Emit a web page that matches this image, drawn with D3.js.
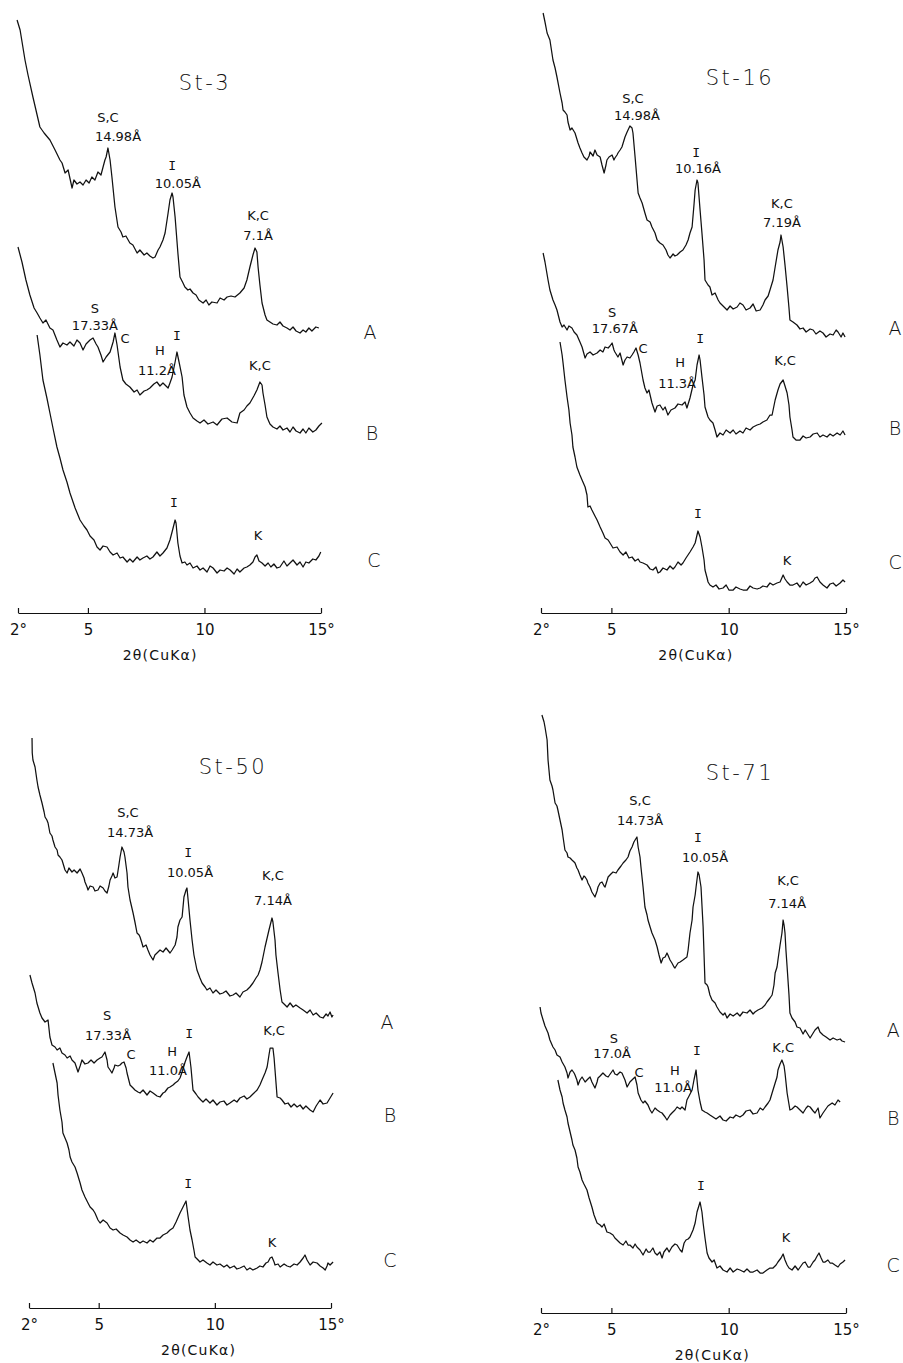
<!DOCTYPE html>
<html>
<head>
<meta charset="utf-8">
<script src="https://cdn.jsdelivr.net/npm/d3@7"></script>
<style>
  body { margin: 0; background: #fff; }
  svg text { font-family: "DejaVu Sans", sans-serif; fill: #111; }
</style>
</head>
<body>
<svg id="chart" width="903" height="1363"></svg>
<script>
// X-ray diffractograms, 2theta (deg) vs. relative intensity (arbitrary units,
// traces already stacked A / B / C as in the original plate)

var tickValues = [2, 5, 10, 15];
var tickLabels = ["2°", "5", "10", "15°"];
var axisTitle = "2θ(CuKα)";
var traceNames = ["A", "B", "C"];

// ---- St-3 ----
var st3A = [[1.96,593],[2.09,583],[2.30,553],[2.43,538],[2.64,516],[2.77,503],[2.94,486],[3.12,480],[3.37,473],[3.59,463],[3.80,453],[3.89,450],[4.02,440],[4.15,443],[4.32,425],[4.40,433],[4.53,429],[4.66,431],[4.79,428],[4.92,433],[5.05,430],[5.17,436],[5.30,433],[5.43,441],[5.56,438],[5.65,446],[5.73,453],[5.78,456],[5.86,465],[5.95,453],[6.03,436],[6.16,406],[6.29,386],[6.42,381],[6.50,376],[6.63,377],[6.80,370],[6.93,368],[7.11,360],[7.23,363],[7.41,358],[7.53,360],[7.66,357],[7.79,355],[7.88,356],[8.01,363],[8.09,366],[8.22,373],[8.31,380],[8.44,400],[8.52,413],[8.61,420],[8.65,416],[8.74,396],[8.86,360],[8.95,336],[9.08,330],[9.16,326],[9.29,323],[9.38,324],[9.51,320],[9.64,318],[9.76,313],[9.94,310],[10.07,313],[10.19,308],[10.32,311],[10.54,310],[10.67,315],[10.84,313],[10.97,316],[11.14,317],[11.31,316],[11.52,320],[11.70,325],[11.82,333],[11.95,346],[12.08,358],[12.17,365],[12.25,361],[12.30,346],[12.38,328],[12.47,310],[12.60,298],[12.68,293],[12.81,291],[12.94,289],[13.11,288],[13.24,291],[13.37,287],[13.54,285],[13.67,283],[13.80,286],[13.93,282],[14.10,280],[14.23,283],[14.35,281],[14.48,285],[14.61,282],[14.78,286],[14.91,285]];
var st3B = [[2.00,366],[2.17,351],[2.34,333],[2.51,318],[2.69,305],[2.82,300],[2.94,295],[3.07,290],[3.20,293],[3.37,285],[3.50,283],[3.67,273],[3.80,266],[3.93,270],[4.10,268],[4.23,271],[4.40,267],[4.53,273],[4.66,270],[4.79,263],[4.92,269],[5.09,273],[5.22,275],[5.35,269],[5.43,266],[5.56,258],[5.65,251],[5.78,256],[5.95,261],[6.08,271],[6.16,280],[6.25,268],[6.38,246],[6.50,233],[6.63,229],[6.80,226],[6.98,221],[7.11,223],[7.23,218],[7.41,222],[7.53,223],[7.66,225],[7.83,229],[7.96,231],[8.09,227],[8.22,230],[8.35,227],[8.44,225],[8.52,230],[8.61,236],[8.74,251],[8.82,261],[8.91,251],[9.04,236],[9.12,218],[9.25,206],[9.38,200],[9.51,195],[9.68,192],[9.81,190],[9.98,193],[10.15,189],[10.37,191],[10.54,188],[10.75,194],[10.97,195],[11.18,191],[11.40,190],[11.52,200],[11.70,203],[11.82,207],[11.95,210],[12.12,217],[12.25,223],[12.38,231],[12.47,228],[12.51,220],[12.60,208],[12.68,196],[12.81,189],[12.94,186],[13.11,184],[13.24,187],[13.37,183],[13.54,185],[13.67,181],[13.80,186],[13.93,182],[14.10,180],[14.23,184],[14.35,180],[14.48,185],[14.65,181],[14.78,183],[14.91,187],[15.04,190]];
var st3C = [[2.82,278],[2.94,258],[3.07,233],[3.24,215],[3.37,200],[3.50,185],[3.67,166],[3.80,155],[3.93,143],[4.10,131],[4.23,120],[4.45,105],[4.66,93],[4.83,87],[4.96,83],[5.09,77],[5.26,73],[5.39,66],[5.52,63],[5.65,67],[5.82,66],[5.95,61],[6.08,58],[6.25,60],[6.38,55],[6.50,56],[6.68,51],[6.80,54],[6.93,51],[7.11,56],[7.23,53],[7.36,55],[7.53,57],[7.66,54],[7.79,56],[7.96,61],[8.09,57],[8.22,60],[8.39,65],[8.52,73],[8.61,81],[8.74,93],[8.78,90],[8.86,70],[8.95,57],[9.04,50],[9.16,51],[9.25,48],[9.38,50],[9.51,45],[9.68,47],[9.81,43],[9.94,45],[10.11,41],[10.24,47],[10.37,45],[10.54,40],[10.67,43],[10.84,42],[10.97,45],[11.10,43],[11.27,39],[11.40,44],[11.52,41],[11.70,45],[11.82,46],[11.95,48],[12.08,51],[12.17,56],[12.25,58],[12.34,52],[12.47,50],[12.60,47],[12.73,50],[12.85,46],[12.98,49],[13.11,45],[13.24,46],[13.41,52],[13.54,47],[13.67,50],[13.80,53],[13.97,48],[14.10,51],[14.23,46],[14.35,51],[14.48,50],[14.65,54],[14.78,53],[14.91,57],[14.99,61]];
var st3Notes = [
  ["St-3", 10.02, 530, "title"],
  ["S,C", 5.86, 496], ["14.98Å", 6.29, 477],
  ["I", 8.61, 448], ["10.05Å", 8.86, 430],
  ["K,C", 12.30, 398], ["7.1Å", 12.30, 378],
  ["S", 5.30, 305], ["17.33Å", 5.30, 288], ["C", 6.59, 275],
  ["I", 8.82, 278], ["H", 8.09, 263], ["11.2Å", 7.96, 243],
  ["K,C", 12.38, 248],
  ["I", 8.69, 111], ["K", 12.30, 78]
];
var st3NamePos = [[17.10, 281], [17.19, 180], [17.27, 53]];

// ---- St-16 ----
var st16A = [[2.09,600],[2.17,591],[2.26,580],[2.38,573],[2.51,553],[2.60,545],[2.68,536],[2.81,520],[2.90,510],[2.94,503],[3.02,501],[3.11,498],[3.15,491],[3.24,483],[3.32,485],[3.45,480],[3.58,470],[3.66,465],[3.75,460],[3.83,456],[3.96,453],[4.05,457],[4.09,461],[4.22,457],[4.30,463],[4.39,458],[4.52,456],[4.60,448],[4.69,440],[4.77,448],[4.81,453],[4.90,456],[5.03,458],[5.11,453],[5.15,455],[5.24,458],[5.28,460],[5.37,463],[5.45,466],[5.58,476],[5.67,481],[5.79,487],[5.88,485],[5.92,480],[6.01,456],[6.14,420],[6.22,415],[6.31,410],[6.43,400],[6.52,393],[6.65,391],[6.73,386],[6.86,380],[6.95,373],[7.07,370],[7.20,368],[7.33,363],[7.41,358],[7.50,355],[7.63,359],[7.71,357],[7.80,358],[7.93,361],[8.05,363],[8.18,368],[8.27,373],[8.35,380],[8.44,386],[8.52,408],[8.57,423],[8.65,433],[8.69,430],[8.78,403],[8.86,380],[8.95,353],[8.99,333],[9.12,328],[9.20,326],[9.29,318],[9.42,320],[9.55,313],[9.63,310],[9.76,307],[9.93,303],[10.06,307],[10.19,304],[10.36,306],[10.48,310],[10.61,308],[10.74,303],[10.91,305],[11.04,309],[11.17,302],[11.34,303],[11.46,308],[11.55,313],[11.68,317],[11.76,323],[11.89,333],[11.98,346],[12.10,363],[12.19,371],[12.23,378],[12.32,366],[12.40,348],[12.49,326],[12.57,305],[12.61,293],[12.74,291],[12.91,288],[13.04,284],[13.17,285],[13.30,281],[13.47,284],[13.60,283],[13.72,279],[13.89,282],[14.02,280],[14.15,276],[14.32,279],[14.45,278],[14.58,283],[14.66,281],[14.79,276],[14.87,280],[14.96,276]];
var st16B = [[2.09,360],[2.17,351],[2.30,333],[2.38,323],[2.51,313],[2.60,308],[2.68,303],[2.81,291],[2.90,286],[2.98,288],[3.11,283],[3.19,287],[3.32,285],[3.41,281],[3.53,278],[3.66,271],[3.75,266],[3.88,255],[3.96,259],[4.09,261],[4.22,258],[4.39,260],[4.52,263],[4.64,261],[4.73,266],[4.86,265],[4.94,267],[5.03,270],[5.11,263],[5.15,261],[5.28,256],[5.37,260],[5.50,248],[5.58,253],[5.67,256],[5.79,255],[5.88,258],[5.96,261],[6.05,265],[6.14,258],[6.22,250],[6.35,233],[6.43,225],[6.52,220],[6.60,223],[6.73,210],[6.86,201],[6.95,207],[7.07,208],[7.20,203],[7.29,206],[7.41,198],[7.54,203],[7.71,205],[7.84,209],[8.01,208],[8.14,211],[8.22,205],[8.35,215],[8.48,228],[8.57,233],[8.65,248],[8.74,258],[8.78,253],[8.86,236],[8.95,218],[8.99,206],[9.12,196],[9.20,193],[9.33,190],[9.42,183],[9.50,176],[9.63,180],[9.76,178],[9.89,183],[10.06,180],[10.19,183],[10.31,179],[10.48,182],[10.61,180],[10.74,185],[10.91,183],[11.04,186],[11.21,188],[11.34,189],[11.46,191],[11.63,193],[11.76,198],[11.85,198],[11.98,213],[12.10,223],[12.19,229],[12.32,233],[12.40,227],[12.49,220],[12.57,208],[12.61,196],[12.70,183],[12.74,176],[12.87,173],[13.04,173],[13.17,177],[13.30,175],[13.47,176],[13.60,179],[13.77,180],[13.89,176],[14.02,178],[14.19,176],[14.32,179],[14.45,177],[14.62,180],[14.75,178],[14.87,182],[14.96,178]];
var st16C = [[2.81,271],[2.90,258],[2.94,250],[3.02,233],[3.11,216],[3.19,203],[3.24,190],[3.32,178],[3.36,166],[3.45,156],[3.53,146],[3.66,138],[3.75,133],[3.88,126],[3.96,118],[4.00,106],[4.09,107],[4.17,103],[4.30,97],[4.39,93],[4.52,86],[4.64,80],[4.73,75],[4.86,73],[4.94,70],[5.07,65],[5.24,66],[5.37,61],[5.50,58],[5.62,61],[5.75,55],[5.88,56],[6.01,52],[6.14,54],[6.22,51],[6.35,50],[6.52,48],[6.65,44],[6.77,43],[6.90,46],[6.99,40],[7.07,41],[7.20,45],[7.37,43],[7.50,47],[7.63,44],[7.71,46],[7.84,51],[7.97,48],[8.05,50],[8.18,55],[8.35,61],[8.48,66],[8.57,70],[8.65,78],[8.69,82],[8.78,76],[8.86,66],[8.95,53],[8.99,43],[9.08,35],[9.12,31],[9.20,28],[9.33,26],[9.46,28],[9.59,24],[9.76,25],[9.89,28],[10.01,23],[10.19,23],[10.31,26],[10.48,24],[10.61,23],[10.78,23],[10.91,27],[11.04,25],[11.21,24],[11.34,25],[11.46,27],[11.63,26],[11.76,30],[11.89,28],[12.06,30],[12.19,31],[12.32,38],[12.40,34],[12.49,31],[12.61,28],[12.74,28],[12.91,30],[13.04,26],[13.17,31],[13.30,28],[13.47,30],[13.60,32],[13.68,35],[13.77,36],[13.89,31],[14.02,28],[14.19,25],[14.32,29],[14.45,30],[14.58,27],[14.75,30],[14.87,33],[14.96,31]];
var st16Notes = [
  ["St-16", 10.48, 535, "title"],
  ["S,C", 5.92, 515], ["14.98Å", 6.09, 498],
  ["I", 8.61, 461], ["10.16Å", 8.69, 445],
  ["K,C", 12.27, 410], ["7.19Å", 12.27, 391],
  ["S", 5.03, 301], ["17.67Å", 5.15, 285], ["C", 6.35, 265],
  ["I", 8.78, 275], ["H", 7.93, 251], ["11.3Å", 7.80, 230],
  ["K,C", 12.40, 253],
  ["I", 8.69, 100], ["K", 12.49, 53]
];
var st16NamePos = [[17.09, 285], [17.09, 185], [17.09, 51]];

// ---- St-50 ----
var st50A = [[2.13,570],[2.14,555],[2.17,548],[2.26,541],[2.34,528],[2.39,521],[2.47,513],[2.56,505],[2.65,496],[2.69,491],[2.77,488],[2.82,485],[2.90,475],[2.99,472],[3.03,468],[3.12,461],[3.21,458],[3.25,453],[3.33,451],[3.42,448],[3.46,445],[3.55,438],[3.64,435],[3.72,440],[3.85,436],[3.94,438],[4.07,435],[4.20,439],[4.28,435],[4.37,430],[4.41,426],[4.50,421],[4.54,418],[4.63,422],[4.76,421],[4.84,417],[4.97,418],[5.06,422],[5.19,420],[5.27,417],[5.36,415],[5.44,422],[5.49,428],[5.57,432],[5.62,435],[5.70,430],[5.79,431],[5.87,443],[5.92,451],[6.00,461],[6.09,456],[6.13,451],[6.22,435],[6.26,421],[6.35,408],[6.43,400],[6.48,395],[6.56,386],[6.65,375],[6.74,373],[6.78,371],[6.86,365],[6.91,361],[7.04,363],[7.12,358],[7.21,353],[7.34,348],[7.42,353],[7.51,355],[7.64,358],[7.77,356],[7.90,360],[8.07,355],[8.16,358],[8.29,363],[8.37,371],[8.41,381],[8.50,388],[8.59,391],[8.67,411],[8.76,418],[8.80,420],[8.85,408],[8.93,388],[9.02,368],[9.10,353],[9.23,338],[9.36,330],[9.45,325],[9.58,321],[9.66,318],[9.79,320],[9.92,315],[10.05,318],[10.22,314],[10.35,315],[10.48,317],[10.65,312],[10.78,313],[10.91,315],[11.08,311],[11.21,316],[11.38,318],[11.51,321],[11.64,325],[11.77,330],[11.86,333],[11.94,338],[12.03,346],[12.16,361],[12.25,370],[12.33,378],[12.46,390],[12.50,386],[12.59,368],[12.63,353],[12.72,335],[12.81,318],[12.89,306],[12.98,304],[13.11,301],[13.24,305],[13.37,301],[13.49,303],[13.67,300],[13.80,298],[13.97,295],[14.10,298],[14.23,293],[14.36,295],[14.53,291],[14.66,290],[14.79,294],[14.87,292],[14.96,296],[15.04,291],[15.09,293]];
var st50B = [[2.04,333],[2.13,325],[2.26,315],[2.34,305],[2.47,295],[2.56,290],[2.69,286],[2.82,288],[2.90,271],[2.99,263],[3.12,261],[3.21,258],[3.33,260],[3.42,255],[3.55,253],[3.64,250],[3.77,252],[3.85,248],[3.98,245],[4.11,236],[4.20,242],[4.28,248],[4.41,244],[4.54,245],[4.67,248],[4.80,245],[4.93,248],[5.06,250],[5.14,251],[5.27,256],[5.36,248],[5.40,241],[5.49,238],[5.57,235],[5.66,240],[5.70,243],[5.83,242],[5.92,243],[6.00,245],[6.09,246],[6.18,240],[6.22,235],[6.35,223],[6.48,220],[6.56,218],[6.69,216],[6.78,215],[6.91,218],[7.08,213],[7.21,217],[7.34,215],[7.51,212],[7.64,211],[7.77,215],[7.85,216],[7.98,220],[8.07,221],[8.20,223],[8.29,225],[8.41,227],[8.50,230],[8.59,236],[8.72,246],[8.80,251],[8.89,256],[8.97,241],[9.06,218],[9.19,214],[9.28,211],[9.40,208],[9.49,206],[9.62,209],[9.79,205],[9.92,208],[10.09,203],[10.22,206],[10.39,207],[10.52,203],[10.65,205],[10.83,208],[10.95,206],[11.08,210],[11.26,212],[11.38,209],[11.51,211],[11.64,214],[11.82,218],[11.94,223],[12.03,228],[12.16,235],[12.25,241],[12.33,253],[12.38,260],[12.50,260],[12.55,250],[12.59,238],[12.68,211],[12.81,210],[12.89,208],[13.02,204],[13.15,205],[13.28,201],[13.41,204],[13.54,201],[13.67,203],[13.80,199],[13.92,202],[14.10,198],[14.23,196],[14.36,202],[14.53,208],[14.66,204],[14.83,205],[14.96,210],[15.09,215]];
var st50C = [[3.03,245],[3.12,235],[3.21,225],[3.25,213],[3.33,198],[3.42,186],[3.46,175],[3.55,170],[3.64,165],[3.72,158],[3.77,151],[3.85,146],[3.98,141],[4.07,135],[4.20,125],[4.28,118],[4.41,111],[4.54,105],[4.63,101],[4.76,98],[4.84,95],[4.97,88],[5.06,85],[5.19,88],[5.36,85],[5.49,80],[5.62,78],[5.75,79],[5.92,75],[6.05,73],[6.22,71],[6.35,68],[6.48,66],[6.61,68],[6.78,65],[6.91,67],[7.08,65],[7.21,68],[7.34,66],[7.51,70],[7.64,70],[7.77,73],[7.94,75],[8.07,78],[8.20,80],[8.33,86],[8.50,95],[8.63,101],[8.76,107],[8.85,91],[8.93,78],[9.02,68],[9.10,58],[9.15,51],[9.28,48],[9.36,46],[9.49,48],[9.66,45],[9.79,43],[9.92,46],[10.09,43],[10.22,44],[10.39,41],[10.52,43],[10.65,40],[10.83,42],[10.95,39],[11.08,40],[11.26,42],[11.38,38],[11.51,40],[11.64,38],[11.82,40],[11.94,42],[12.07,41],[12.20,45],[12.29,46],[12.38,50],[12.46,51],[12.55,46],[12.59,43],[12.72,44],[12.81,41],[12.98,44],[13.11,42],[13.24,41],[13.41,44],[13.54,43],[13.67,46],[13.80,50],[13.88,53],[13.97,48],[14.10,43],[14.23,46],[14.40,45],[14.53,42],[14.66,40],[14.75,38],[14.83,42],[14.87,45],[14.96,43],[15.09,46]];
var st50Notes = [
  ["St-50", 10.78, 541, "title"],
  ["S,C", 6.26, 496], ["14.73Å", 6.35, 476],
  ["I", 8.85, 456], ["10.05Å", 8.93, 436],
  ["K,C", 12.50, 433], ["7.14Å", 12.50, 408],
  ["S", 5.36, 293], ["17.33Å", 5.40, 273], ["C", 6.39, 254],
  ["I", 8.89, 275], ["H", 8.16, 257], ["11.0Å", 7.98, 238],
  ["K,C", 12.55, 278],
  ["I", 8.85, 125], ["K", 12.46, 66]
];
var st50NamePos = [[17.41, 286], [17.54, 193], [17.54, 48]];

// ---- St-71 ----
var st71A = [[2.04,598],[2.13,591],[2.17,586],[2.26,573],[2.30,553],[2.34,543],[2.38,533],[2.47,527],[2.51,523],[2.60,510],[2.68,507],[2.72,503],[2.81,493],[2.90,483],[2.94,476],[3.02,463],[3.11,460],[3.15,456],[3.24,455],[3.32,453],[3.41,451],[3.45,450],[3.53,445],[3.58,443],[3.66,438],[3.75,433],[3.83,437],[3.88,436],[3.96,433],[4.00,430],[4.09,426],[4.17,421],[4.30,416],[4.39,422],[4.43,426],[4.52,430],[4.60,431],[4.69,427],[4.73,426],[4.81,432],[4.86,436],[4.98,439],[5.07,441],[5.20,440],[5.28,443],[5.41,447],[5.50,450],[5.62,453],[5.71,456],[5.79,462],[5.88,466],[5.96,471],[6.01,473],[6.09,476],[6.14,466],[6.22,456],[6.26,446],[6.35,426],[6.43,406],[6.52,398],[6.56,393],[6.65,386],[6.73,380],[6.86,373],[6.95,366],[7.03,358],[7.12,350],[7.20,355],[7.29,356],[7.37,360],[7.41,358],[7.50,353],[7.58,350],[7.67,346],[7.71,345],[7.84,350],[7.93,351],[8.05,353],[8.22,356],[8.27,363],[8.35,380],[8.44,393],[8.48,406],[8.57,418],[8.61,426],[8.69,441],[8.74,438],[8.82,426],[8.86,408],[8.91,386],[8.95,358],[8.99,330],[9.08,328],[9.12,326],[9.20,318],[9.29,313],[9.42,310],[9.50,306],[9.63,301],[9.76,298],[9.84,300],[9.93,295],[10.06,299],[10.19,297],[10.36,300],[10.48,297],[10.61,301],[10.78,300],[10.91,303],[11.04,299],[11.12,301],[11.25,303],[11.42,305],[11.55,308],[11.63,311],[11.76,315],[11.85,318],[11.93,328],[11.98,340],[12.06,346],[12.10,353],[12.19,368],[12.27,380],[12.32,393],[12.36,388],[12.40,380],[12.44,363],[12.49,346],[12.57,318],[12.61,300],[12.70,295],[12.83,291],[12.91,286],[13.04,285],[13.17,279],[13.26,283],[13.34,280],[13.47,275],[13.60,280],[13.68,283],[13.81,286],[13.89,281],[14.02,278],[14.15,276],[14.32,273],[14.45,275],[14.62,273],[14.75,274],[14.83,272],[14.96,271]];
var st71B = [[1.96,306],[2.00,300],[2.09,293],[2.17,287],[2.30,280],[2.38,273],[2.51,266],[2.60,263],[2.68,258],[2.81,256],[2.90,251],[3.02,246],[3.11,240],[3.15,235],[3.24,241],[3.32,243],[3.41,240],[3.45,238],[3.53,233],[3.58,228],[3.66,233],[3.75,236],[3.83,233],[3.88,231],[4.00,234],[4.09,236],[4.17,231],[4.30,225],[4.39,231],[4.43,235],[4.52,237],[4.64,240],[4.77,237],[4.86,236],[4.98,240],[5.07,243],[5.15,239],[5.24,238],[5.37,241],[5.45,240],[5.58,233],[5.67,226],[5.79,231],[5.92,234],[6.01,236],[6.09,228],[6.14,220],[6.26,213],[6.35,210],[6.43,212],[6.56,208],[6.65,203],[6.73,200],[6.86,205],[6.95,203],[7.07,201],[7.16,200],[7.29,196],[7.37,193],[7.50,198],[7.58,200],[7.71,203],[7.80,206],[7.93,204],[8.01,206],[8.14,203],[8.22,213],[8.31,217],[8.44,223],[8.52,233],[8.61,243],[8.69,223],[8.78,211],[8.86,203],[8.99,201],[9.08,200],[9.20,198],[9.33,196],[9.46,194],[9.63,197],[9.76,193],[9.89,192],[10.06,196],[10.19,195],[10.31,198],[10.48,196],[10.61,198],[10.74,202],[10.91,203],[11.04,199],[11.21,200],[11.34,205],[11.46,203],[11.55,206],[11.68,210],[11.76,213],[11.85,220],[11.98,230],[12.06,236],[12.10,243],[12.19,249],[12.27,253],[12.36,247],[12.40,240],[12.49,220],[12.61,203],[12.70,204],[12.83,207],[12.91,206],[13.04,203],[13.17,200],[13.30,205],[13.38,207],[13.47,206],[13.60,202],[13.68,200],[13.81,205],[13.89,195],[14.02,200],[14.11,203],[14.23,207],[14.41,210],[14.53,208],[14.66,213],[14.75,211]];
var st71C = [[2.72,233],[2.81,223],[2.90,216],[2.94,210],[3.02,203],[3.11,196],[3.15,190],[3.24,181],[3.32,173],[3.36,168],[3.45,163],[3.53,155],[3.58,146],[3.66,141],[3.75,133],[3.83,129],[3.96,123],[4.05,115],[4.17,106],[4.26,98],[4.39,90],[4.52,88],[4.60,86],[4.69,89],[4.81,81],[4.94,80],[5.07,78],[5.15,75],[5.24,73],[5.37,70],[5.50,68],[5.62,72],[5.71,68],[5.79,68],[5.92,65],[6.01,69],[6.09,66],[6.22,63],[6.35,58],[6.48,64],[6.56,61],[6.65,61],[6.77,65],[6.86,60],[6.95,58],[7.07,61],[7.16,55],[7.24,61],[7.37,65],[7.46,61],[7.58,66],[7.71,69],[7.80,68],[7.93,63],[8.01,61],[8.10,70],[8.18,73],[8.27,74],[8.35,76],[8.48,83],[8.57,90],[8.65,101],[8.78,111],[8.86,101],[8.91,90],[8.99,75],[9.08,60],[9.16,55],[9.29,51],[9.38,53],[9.50,45],[9.63,47],[9.76,43],[9.93,41],[10.06,45],[10.19,41],[10.36,44],[10.48,43],[10.65,41],[10.78,44],[10.91,41],[11.04,41],[11.21,43],[11.34,40],[11.46,40],[11.63,43],[11.76,45],[11.89,45],[12.02,48],[12.10,51],[12.23,55],[12.32,59],[12.40,53],[12.49,48],[12.57,45],[12.70,43],[12.83,47],[12.96,43],[13.08,47],[13.17,50],[13.26,51],[13.38,46],[13.47,46],[13.60,51],[13.68,53],[13.77,57],[13.85,60],[13.94,55],[14.02,51],[14.11,51],[14.23,53],[14.32,50],[14.41,50],[14.53,48],[14.66,46],[14.75,49],[14.87,51],[14.96,53]];
var st71Notes = [
  ["St-71", 10.48, 540, "title"],
  ["S,C", 6.22, 513], ["14.73Å", 6.22, 493],
  ["I", 8.69, 476], ["10.05Å", 8.99, 456],
  ["K,C", 12.53, 433], ["7.14Å", 12.49, 410],
  ["S", 5.11, 275], ["17.0Å", 5.03, 260], ["C", 6.18, 241],
  ["I", 8.65, 263], ["H", 7.71, 243], ["11.0Å", 7.63, 226],
  ["K,C", 12.32, 266],
  ["I", 8.82, 128], ["K", 12.44, 76]
];
var st71NamePos = [[17.01, 283], [17.01, 195], [17.01, 48]];

// panel layout on the page
var panels = [
  { traces: [st3A, st3B, st3C], notes: st3Notes, names: st3NamePos, left: 18, right: 321, base: 613, titleX: 8.1 },
  { traces: [st16A, st16B, st16C], notes: st16Notes, names: st16NamePos, left: 541, right: 846, base: 613, titleX: 8.6 },
  { traces: [st50A, st50B, st50C], notes: st50Notes, names: st50NamePos, left: 29, right: 331, base: 1308, titleX: 9.3 },
  { traces: [st71A, st71B, st71C], notes: st71Notes, names: st71NamePos, left: 541, right: 846, base: 1313, titleX: 9.3 }
];

var svg = d3.select("#chart");

panels.forEach(function(p) {
  var x = d3.scaleLinear().domain([2, 15]).range([p.left, p.right]);
  var y = d3.scaleLinear().domain([0, 600]).range([p.base, p.base - 600]);
  var g = svg.append("g");

  // traces
  var line = d3.line()
    .x(function(d) { return x(d[0]); })
    .y(function(d) { return y(d[1]); });
  g.selectAll("path.trace")
    .data(p.traces)
    .enter().append("path")
    .attr("class", "trace")
    .attr("d", line)
    .attr("fill", "none")
    .attr("stroke", "#111")
    .attr("stroke-width", 1.25)
    .attr("stroke-linejoin", "round");

  // peak labels + title ("I" drawn with serifs like the plate)
  g.selectAll("text.note")
    .data(p.notes)
    .enter().append("text")
    .attr("class", "note")
    .attr("x", function(d) { return x(d[1]); })
    .attr("y", function(d) { return y(d[2]); })
    .attr("text-anchor", "middle")
    .attr("dominant-baseline", "central")
    .attr("font-size", function(d) { return d[3] === "title" ? 21 : 13; })
    .attr("font-weight", function(d) { return d[3] === "title" ? 300 : 400; })
    .attr("letter-spacing", function(d) { return d[3] === "title" ? 2.5 : 0; })
    .style("font-family", function(d) { return d[0] === "I" ? "'DejaVu Sans Mono', monospace" : null; })
    .text(function(d) { return d[0]; });

  // A / B / C
  g.selectAll("text.name")
    .data(p.names)
    .enter().append("text")
    .attr("class", "name")
    .attr("x", function(d) { return x(d[0]); })
    .attr("y", function(d) { return y(d[1]); })
    .attr("text-anchor", "middle")
    .attr("dominant-baseline", "central")
    .attr("font-size", 19)
    .attr("font-weight", 300)
    .text(function(d, i) { return traceNames[i]; });

  // 2theta axis, short ticks pointing up
  var axis = d3.axisBottom(x)
    .tickValues(tickValues)
    .tickFormat(function(d, i) { return tickLabels[i]; })
    .tickSizeInner(-5)
    .tickSizeOuter(0)
    .tickPadding(11);
  var ax = g.append("g")
    .attr("transform", "translate(0," + p.base + ")")
    .call(axis);
  ax.select(".domain").attr("stroke", "#111").attr("stroke-width", 1.2);
  ax.selectAll(".tick line").attr("stroke", "#111").attr("stroke-width", 1.2);
  ax.selectAll(".tick text")
    .attr("font-size", 15)
    .attr("font-family", "DejaVu Sans, sans-serif")
    .attr("fill", "#111");

  g.append("text")
    .attr("x", x(p.titleX))
    .attr("y", p.base + 47)
    .attr("text-anchor", "middle")
    .attr("font-size", 14)
    .attr("letter-spacing", 1.2)
    .text(axisTitle);
});
</script>
</body>
</html>
